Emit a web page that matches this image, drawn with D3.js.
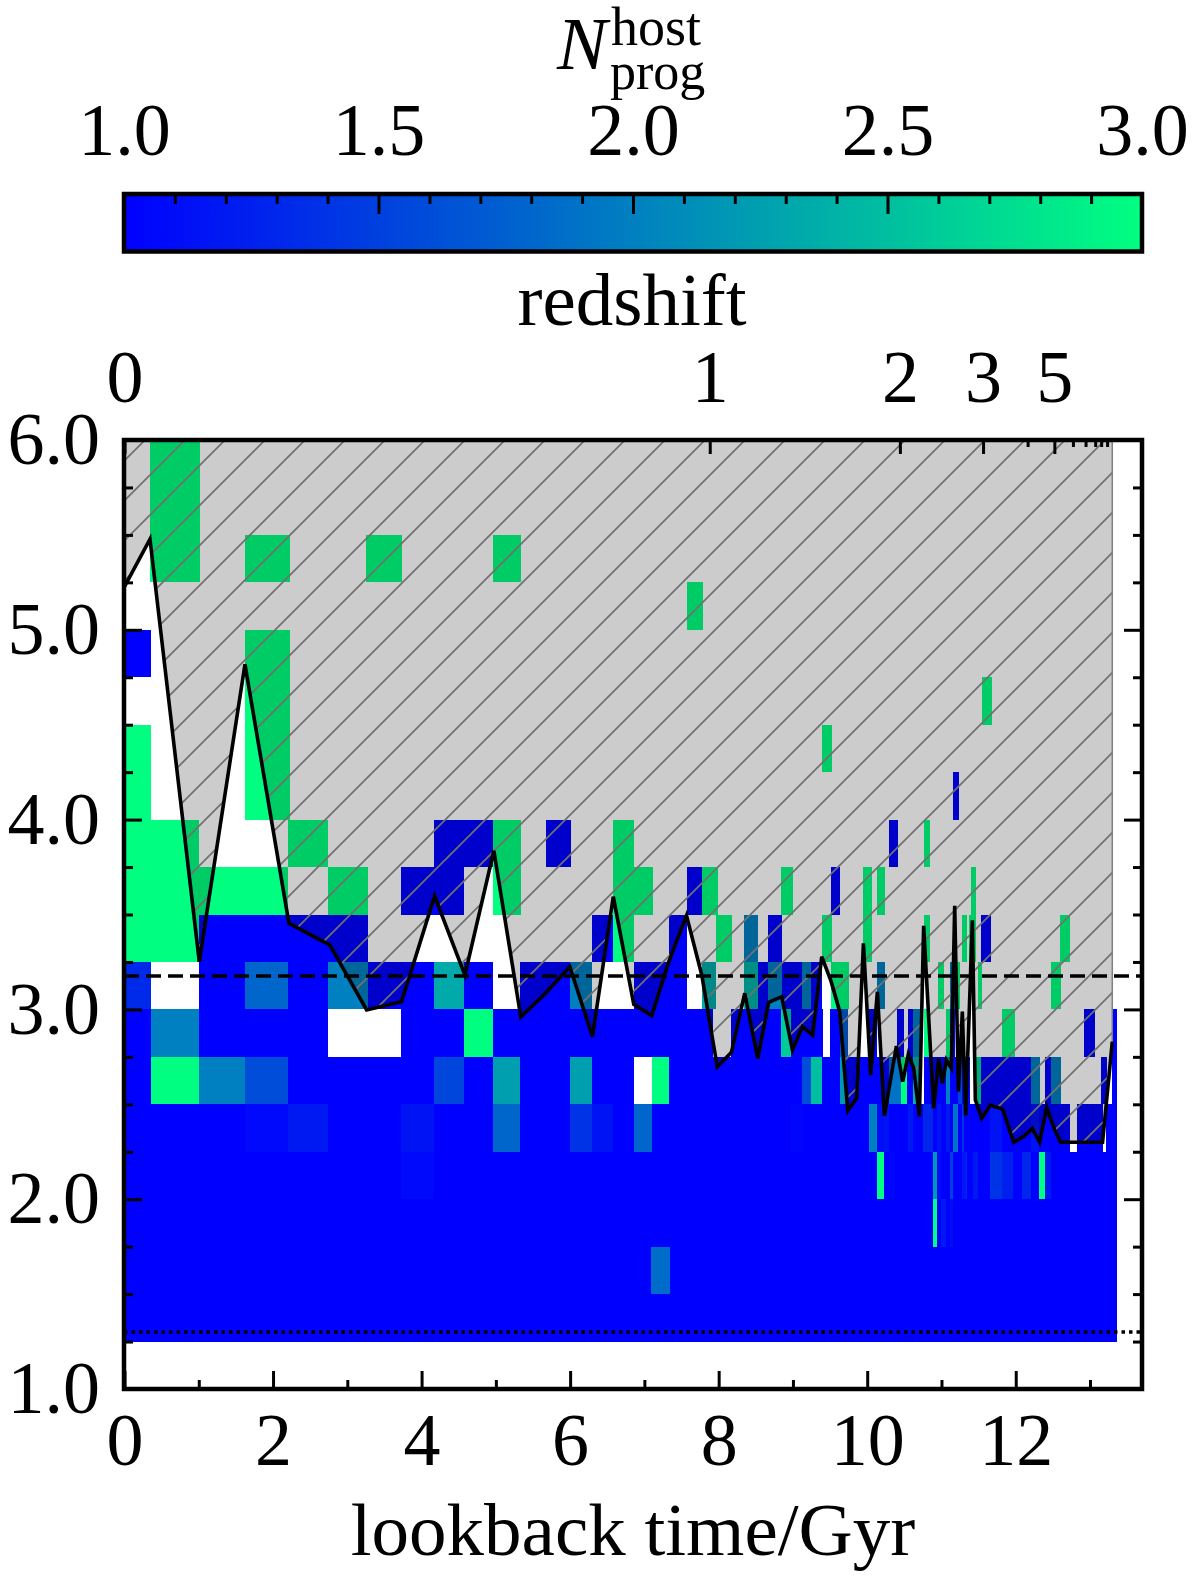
<!DOCTYPE html>
<html>
<head>
<meta charset="utf-8">
<script src="https://cdn.jsdelivr.net/npm/d3@7"></script>
<style>
html, body { margin: 0; padding: 0; background: #fff; }
svg { display: block; }
text { font-family: "Liberation Serif", serif; fill: #000; }
</style>
</head>
<body>
<div id="container"></div>
<script>
var w = 1196;
var h = 1579;

// each row holds [t start, t end, N] spans, later spans paint over earlier ones
var row125 = [[0,13.36,1]];
var row150 = [[0,13.36,1],[7.09,7.34,1.85]];
var row175 = [[0,13.36,1],[10.88,10.94,3],[11.0,11.06,1.2],[11.11,11.16,1.1]];
var row200 = [[0,13.36,1],[3.72,4.17,1.07],[10.13,10.22,3],[10.30,10.38,1.05],[10.88,10.94,2.2],[10.94,11.0,1.1],
  [11.11,11.16,1.5],[11.27,11.33,1.2],[11.33,11.35,1.3],[11.42,11.49,1.2],[11.65,11.82,1.4],[11.82,11.96,1.25],
  [12.09,12.21,1.3],[12.31,12.40,3],[12.40,12.48,1.2]];
var row225 = [[0,12.73,1],[12.83,13.17,1],[13.21,13.36,1],[1.62,2.20,1.07],[2.20,2.74,1.2],[3.72,4.17,1.15],[4.96,5.32,1.8],
  [6.00,6.29,1.4],[6.29,6.575,1.15],[6.86,7.10,1.8],[8.98,9.12,1.05],[10.03,10.13,2],[10.13,10.22,1.1],[10.22,10.30,1.15],
  [10.55,10.61,1.2],[10.75,10.88,1.3],[10.94,11.00,1.15],[11.06,11.11,1.2],[11.16,11.22,1.9],[11.27,11.31,1.4],
  [11.65,11.82,1.15],[12.21,12.31,1.15]];
var row250 = [[0,6.86,1],[7.10,8.98,1],[0.36,1.0,3],[1.0,1.62,2],[1.62,2.20,1.6],[4.17,4.57,1.55],[4.96,5.32,2.25],[6.00,6.29,2.25],
  [7.10,7.33,3],[8.98,9.12,1],[9.12,9.25,1.6],[9.25,9.39,2.5],[9.39,9.63,1],[9.63,9.71,2.2],[9.71,10.30,1],[10.30,10.46,1.9],
  [10.46,10.54,3],[10.54,10.61,1],[10.61,10.71,2.4],[10.76,11.06,1],[11.06,11.11,2],[11.11,11.22,1],[11.22,11.27,1.5],
  [11.27,11.38,1],[11.47,11.53,2.7],[11.53,12.21,1],[12.21,12.33,2],[12.40,12.48,1],[12.48,12.61,2],[13.15,13.23,1],[13.30,13.36,1]];
var row275 = [[0,0.36,1],[0.36,1.0,2],[1.0,2.74,1],[3.72,4.57,1],[4.57,4.96,3],[4.96,7.92,1],[8.16,8.84,1],[8.84,8.98,2.6],
  [8.98,9.40,1],[9.50,9.63,1],[9.63,9.74,1.7],[10.03,10.13,1],[10.40,10.49,1],[10.55,10.61,1],[10.61,10.71,2],[10.76,10.84,3],
  [11.06,11.12,3],[11.12,11.18,1],[11.82,11.99,3],[12.92,13.07,1],[13.30,13.36,1]];
var row300 = [[0,0.36,1.33],[1.0,1.62,1],[1.62,2.20,1.8],[2.20,2.74,1],[2.74,3.28,2],[3.28,4.17,1],[4.17,4.57,2.33],[4.57,4.96,1],
  [5.32,6.00,1],[6.00,6.29,2],[6.86,7.57,1],[7.77,7.97,2.35],[8.34,8.53,2.4],[8.53,8.67,1],[8.67,8.85,2],[8.85,9.12,1],[9.12,9.25,2],
  [9.25,9.39,1],[9.51,9.75,3],[10.13,10.24,2],[10.95,11.03,3],[11.11,11.18,2],[11.18,11.25,3],[11.49,11.55,3],[12.48,12.61,3]];
var row325 = [[0,1.0,3],[1.0,3.28,1],[6.29,6.575,1],[6.575,6.857,3],[7.33,7.57,1],[7.97,8.18,3],[8.34,8.53,2],[8.67,8.85,1],
  [9.39,9.52,3],[9.94,10.06,3],[10.76,10.84,3],[11.27,11.34,3],[11.37,11.47,3],[11.53,11.67,1],[12.59,12.73,3]];
var row350 = [[0,2.20,3],[2.74,3.28,3],[3.72,4.57,1],[4.96,5.34,3],[6.575,7.11,3],[7.57,7.77,1],[7.77,7.99,3],[8.84,9.00,3],
  [9.51,9.64,1],[9.94,10.06,3],[10.13,10.24,3],[11.40,11.47,3]];
var row375 = [[0,1.0,3],[2.20,2.74,3],[4.17,4.96,1],[4.96,5.34,3],[5.67,6.01,1],[6.575,6.857,3],[10.30,10.41,1],[10.76,10.84,3]];
var row400 = [[0,0.36,3],[1.62,2.23,3],[11.16,11.24,1]];
var row425 = [[0,0.36,3],[1.62,2.23,3],[9.39,9.52,3]];
var row450 = [[1.62,2.23,3],[11.54,11.68,3]];
var row475 = [[0,0.36,1],[1.62,2.23,3]];
var row500 = [[7.57,7.79,3]];
var row525 = [[0.35,1.02,3],[1.62,2.23,3],[3.25,3.74,3],[4.96,5.34,3]];
var row550 = [[0.35,1.02,3]];
var row575 = [[0.35,1.02,3]];

var rowStarts = [1.25,1.5,1.75,2,2.25,2.5,2.75,3,3.25,3.5,3.75,4,4.25,4.5,4.75,5,5.25,5.5,5.75];
var rowSpans = [row125,row150,row175,row200,row225,row250,row275,row300,row325,row350,row375,row400,row425,row450,row475,row500,row525,row550,row575];

var lineTimes = [0,.343,1.007,1.622,2.214,2.766,3.26,3.731,4.175,4.583,4.973,5.336,5.669,5.996,6.301,6.581,6.857,7.10,7.328,7.567,
  7.773,7.981,8.172,8.351,8.526,8.674,8.849,8.993,9.128,9.266,9.388,9.515,9.63,9.738,9.859,9.949,10.047,10.137,10.231,10.393,
  10.478,10.554,10.626,10.703,10.76,10.895,10.962,11.012,11.066,11.133,11.178,11.228,11.281,11.326,11.416,11.456,11.541,11.658,
  11.824,11.972,12.106,12.223,12.322,12.416,12.524,12.604,13.169,13.30];
var lineValues = [5.227,5.478,3.251,4.818,3.454,3.339,2.997,3.04,3.597,3.18,3.836,2.96,3.085,3.225,2.856,3.594,3.027,2.967,3.25,3.494,
  3.18,2.698,2.774,3.085,2.742,3.037,3.067,2.786,2.909,2.865,3.278,3.146,2.988,2.466,2.532,3.348,2.654,3.093,2.44,2.807,
  2.619,2.763,2.69,2.435,3.44,2.479,2.74,2.61,2.733,2.69,3.546,2.567,2.988,2.44,3.47,2.523,2.426,2.496,
  2.474,2.30,2.33,2.372,2.30,2.482,2.365,2.30,2.30,2.83];

var dashedLevel = 3.176;
var dottedLevel = 1.30;

var xTicks = [0,2,4,6,8,10,12];
var xMinor = [1,3,5,7,9,11,13];
var yTicks = [1,2,3,4,5,6];
var yMinor = [1.25,1.5,1.75,2.25,2.5,2.75,3.25,3.5,3.75,4.25,4.5,4.75,5.25,5.5,5.75];
var zTimes = [0,7.88,10.44,11.56,12.52];
var zLabels = ["0","1","2","3","5"];
var zMinor = [12.16,12.77,12.94,13.07,13.15,13.23];
var cbTicks = [1,1.5,2,2.5,3];
var cbMinor = [1.1,1.2,1.3,1.4,1.6,1.7,1.8,1.9,2.1,2.2,2.3,2.4,2.6,2.7,2.8,2.9];

var tickFs = 74;
var labelFs = 75;
var left = 124, right = 1142, top0 = 440, bot = 1389;

var svg = d3.select("div#container").append("svg")
  .attr("width", w).attr("height", h).attr("viewBox", "0 0 " + w + " " + h);

var x = d3.scaleLinear().domain([0, 13.7]).range([124.5, right]);
var y = d3.scaleLinear().domain([1, 6]).range([bot, top0]);
var cbx = d3.scaleLinear().domain([1, 3]).range([left, right]);
var color = d3.scaleLinear().domain([1, 3]).range(["#0000ff", "#00ff80"]);

var defs = svg.append("defs");
var grad = defs.append("linearGradient").attr("id", "winter");
grad.selectAll("stop").data(cbTicks).enter().append("stop")
  .attr("offset", function(d) { return (d - 1) / 2; })
  .attr("stop-color", function(d) { return color(d); });

var hatch = defs.append("pattern").attr("id", "hatch")
  .attr("patternUnits", "userSpaceOnUse").attr("width", 40).attr("height", 40)
  .attr("patternTransform", "translate(25,0)");
hatch.append("path").attr("d", "M-5,5L5,-5M-5,45L45,-5M35,45L45,35")
  .attr("stroke", "#707070").attr("stroke-width", 1.7);

var clip = defs.append("clipPath").attr("id", "plotclip");
clip.append("rect").attr("x", left).attr("y", top0).attr("width", right - left).attr("height", bot - top0);

// colourbar
svg.append("rect").attr("x", left).attr("y", 194).attr("width", right - left).attr("height", 57.5)
  .attr("fill", "url(#winter)");
var cbAxis = svg.append("g").attr("transform", "translate(0,194)")
  .call(d3.axisTop(cbx).tickValues(cbTicks).tickSize(-20).tickPadding(39).tickFormat(d3.format(".1f")));
var cbAxis2 = svg.append("g").attr("transform", "translate(0,194)")
  .call(d3.axisTop(cbx).tickValues(cbMinor).tickSize(-10).tickFormat(""));
svg.append("rect").attr("x", left).attr("y", 194).attr("width", right - left).attr("height", 57.5)
  .attr("fill", "none").attr("stroke", "#000").attr("stroke-width", 4.5);

// grid of progenitor counts
var plot = svg.append("g").attr("clip-path", "url(#plotclip)");
rowStarts.forEach(function(start, i) {
  plot.append("g").selectAll("rect").data(rowSpans[i]).enter().append("rect")
    .attr("x", function(d) { return x(d[0]); })
    .attr("width", function(d) { return x(d[1]) - x(d[0]); })
    .attr("y", y(start + 0.25))
    .attr("height", y(start) - y(start + 0.25))
    .attr("fill", function(d) { return color(d[2]); })
    .attr("shape-rendering", "crispEdges");
});

// shaded region above the line
var pts = lineTimes.map(function(t, i) { return [t, lineValues[i]]; });
var band = d3.area().x(function(d) { return x(d[0]); }).y0(y(6)).y1(function(d) { return y(d[1]); });
plot.append("path").attr("d", band(pts)).attr("fill", "#000").attr("fill-opacity", 0.2);
plot.append("path").attr("d", band(pts)).attr("fill", "url(#hatch)")
  .attr("stroke", "#808080").attr("stroke-width", 1.5);

var line = d3.line().x(function(d) { return x(d[0]); }).y(function(d) { return y(d[1]); });
plot.append("path").attr("d", line(pts)).attr("fill", "none").attr("stroke", "#000")
  .attr("stroke-width", 3.6).attr("stroke-linejoin", "miter");

plot.append("line").attr("x1", left).attr("x2", right).attr("y1", y(dashedLevel)).attr("y2", y(dashedLevel))
  .attr("stroke", "#000").attr("stroke-width", 3.5).attr("stroke-dasharray", "15 7");
plot.append("line").attr("x1", left).attr("x2", right).attr("y1", y(dottedLevel)).attr("y2", y(dottedLevel))
  .attr("stroke", "#000").attr("stroke-width", 3.5).attr("stroke-dasharray", "3.5 4");

// axes, ticks point inwards
svg.append("g").attr("transform", "translate(0," + bot + ")")
  .call(d3.axisBottom(x).tickValues(xTicks).tickSize(-18).tickPadding(23).tickFormat(d3.format("d")));
svg.append("g").attr("transform", "translate(0," + bot + ")")
  .call(d3.axisBottom(x).tickValues(xMinor).tickSize(-9).tickFormat(""));
svg.append("g").attr("transform", "translate(" + left + ",0)")
  .call(d3.axisLeft(y).tickValues(yTicks).tickSize(-18).tickPadding(24).tickFormat(d3.format(".1f")));
svg.append("g").attr("transform", "translate(" + left + ",0)")
  .call(d3.axisLeft(y).tickValues(yMinor).tickSize(-9).tickFormat(""));
svg.append("g").attr("transform", "translate(" + right + ",0)")
  .call(d3.axisRight(y).tickValues(yTicks).tickSize(-18).tickFormat(""));
svg.append("g").attr("transform", "translate(" + right + ",0)")
  .call(d3.axisRight(y).tickValues(yMinor).tickSize(-9).tickFormat(""));
svg.append("g").attr("transform", "translate(0," + top0 + ")")
  .call(d3.axisTop(x).tickValues(zTimes).tickSize(-14).tickPadding(38).tickFormat(function(d, i) { return zLabels[i]; }));
svg.append("g").attr("transform", "translate(0," + top0 + ")")
  .call(d3.axisTop(x).tickValues(zMinor).tickSize(-7).tickFormat(""));

svg.selectAll(".domain").remove();
svg.selectAll(".tick line").attr("stroke", "#000").attr("stroke-width", 3);
svg.selectAll(".tick text").attr("font-family", "Liberation Serif").style("font-size", tickFs + "px");

svg.append("rect").attr("x", left).attr("y", top0).attr("width", right - left).attr("height", bot - top0)
  .attr("fill", "none").attr("stroke", "#000").attr("stroke-width", 4.5);

// labels
svg.append("text").attr("x", 633).attr("y", 1555).attr("text-anchor", "middle")
  .style("font-size", labelFs + "px").text("lookback time/Gyr");
svg.append("text").attr("x", 632).attr("y", 325).attr("text-anchor", "middle")
  .style("font-size", labelFs + "px").text("redshift");
svg.append("text").attr("x", 557).attr("y", 69).style("font-size", labelFs + "px").style("font-style", "italic").text("N");
svg.append("text").attr("x", 611).attr("y", 45).style("font-size", "54px").text("host");
svg.append("text").attr("x", 610).attr("y", 89).style("font-size", "52px").text("prog");
</script>
</body>
</html>
